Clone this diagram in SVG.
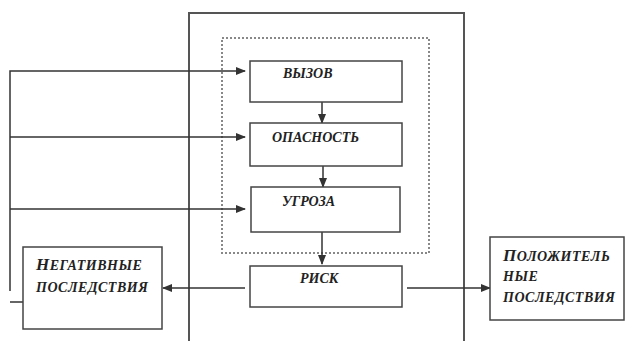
<svg xmlns="http://www.w3.org/2000/svg" width="625" height="341" viewBox="0 0 625 341">
<style>
.box{fill:#fff;stroke:#444;stroke-width:1.5}
.ln{fill:none;stroke:#333;stroke-width:1.5}
.t{font-family:"Liberation Serif","Times New Roman",serif;font-weight:bold;font-style:italic;font-size:14px;fill:#222}
.sc{letter-spacing:0.5px}
.big{font-size:17px}
</style>
<defs>
<marker id="ah" markerWidth="10" markerHeight="8" refX="9" refY="4" orient="auto" markerUnits="userSpaceOnUse">
<path d="M0,0 L10,4 L0,8 Z" fill="#333"/>
</marker>
</defs>
<rect width="625" height="341" fill="#fff"/>
<g id="frame">
<path d="M189,341 V13 H464 V341" fill="none" stroke="#555" stroke-width="2"/>
<rect x="222" y="38" width="207" height="215" fill="none" stroke="#888" stroke-width="2" stroke-dasharray="2,2"/>
</g>
<g id="connectors">
<path class="ln" d="M10,291 V71 H245" marker-end="url(#ah)"/>
<path class="ln" d="M10,137 H245" marker-end="url(#ah)"/>
<path class="ln" d="M10,209 H245" marker-end="url(#ah)"/>
<path class="ln" d="M10,302 H23"/>
<path class="ln" d="M322,97 V123" marker-end="url(#ah)"/>
<path class="ln" d="M323,162 V187" marker-end="url(#ah)"/>
<path class="ln" d="M322,232 V264" marker-end="url(#ah)"/>
<path class="ln" d="M245,288 H163" stroke-width="2.5" marker-end="url(#ah)"/>
<path class="ln" d="M407,288 H490" marker-end="url(#ah)"/>
</g>
<g id="vyzov"><rect class="box" x="250" y="61" width="152" height="41"/><text class="t" x="283" y="78">ВЫЗОВ</text></g>
<g id="opasnost"><rect class="box" x="250" y="123" width="152" height="43"/><text class="t" x="272" y="142">ОПАСНОСТЬ</text></g>
<g id="ugroza"><rect class="box" x="251" y="187" width="149" height="45"/><text class="t" x="282" y="206">УГРОЗА</text></g>
<g id="risk"><rect class="box" x="250" y="266" width="152" height="41"/><text class="t" x="300" y="283">РИСК</text></g>
<g id="negative"><rect class="box" x="23" y="247" width="139" height="82"/><text class="t sc" x="36" y="270"><tspan class="big">Н</tspan>ЕГАТИВНЫЕ</text><text class="t sc" x="36" y="292">ПОСЛЕДСТВИЯ</text></g>
<g id="positive"><rect class="box" x="490" y="237" width="134" height="83"/><text class="t sc" x="503" y="261"><tspan class="big">П</tspan>ОЛОЖИТЕЛЬ</text><text class="t sc" x="503" y="281">НЫЕ</text><text class="t sc" x="503" y="302">ПОСЛЕДСТВИЯ</text></g>
</svg>
